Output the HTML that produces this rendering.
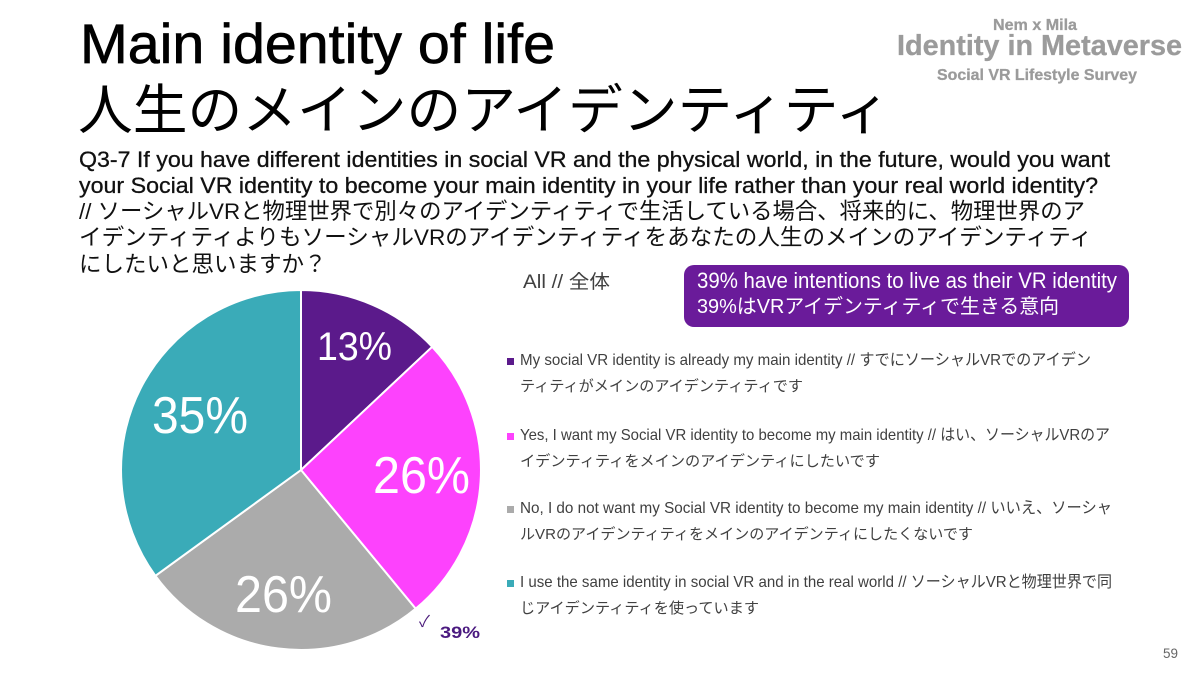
<!DOCTYPE html>
<html>
<head>
<meta charset="utf-8">
<style>
  html, body { margin: 0; padding: 0; background: #ffffff; }
  body { width: 1200px; height: 675px; overflow: hidden; }
  svg { display: block; }
  text { font-family: "Liberation Sans", "Noto Sans CJK JP", sans-serif; }
</style>
</head>
<body>
<svg width="1200" height="675" viewBox="0 0 1200 675" xmlns="http://www.w3.org/2000/svg">
  <rect x="0" y="0" width="1200" height="675" fill="#ffffff"/>

  <!-- Title -->
  <text x="80" y="63" font-size="56" fill="#000" stroke="#000" stroke-width="0.7" textLength="475" lengthAdjust="spacingAndGlyphs">Main identity of life</text>
  <text x="78" y="129" font-size="54" fill="#000" textLength="812" lengthAdjust="spacingAndGlyphs">人生のメインのアイデンティティ</text>

  <!-- Logo -->
  <g fill="#9b9b9b" font-weight="bold" stroke="#9b9b9b" stroke-width="0.3">
    <text x="993" y="30" font-size="16" textLength="84" lengthAdjust="spacingAndGlyphs">Nem x Mila</text>
    <text x="897" y="55" font-size="29" textLength="285" lengthAdjust="spacingAndGlyphs">Identity in Metaverse</text>
    <text x="937" y="80" font-size="16" textLength="200" lengthAdjust="spacingAndGlyphs">Social VR Lifestyle Survey</text>
  </g>

  <!-- Question -->
  <g fill="#111">
    <text x="79" y="167" font-size="22" stroke="#111" stroke-width="0.3" textLength="1031" lengthAdjust="spacingAndGlyphs">Q3-7 If you have different identities in social VR and the physical world, in the future, would you want</text>
    <text x="79" y="193" font-size="22" stroke="#111" stroke-width="0.3" textLength="1019" lengthAdjust="spacingAndGlyphs">your Social VR identity to become your main identity in your life rather than your real world identity?</text>
    <text x="79" y="219" font-size="22.5" textLength="1006" lengthAdjust="spacingAndGlyphs">// ソーシャルVRと物理世界で別々のアイデンティティで生活している場合、将来的に、物理世界のア</text>
    <text x="79" y="245" font-size="22.5" textLength="1013" lengthAdjust="spacingAndGlyphs">イデンティティよりもソーシャルVRのアイデンティティをあなたの人生のメインのアイデンティティ</text>
    <text x="79" y="272" font-size="22.5">にしたいと思いますか？</text>
  </g>

  <!-- All label -->
  <text x="523" y="288" font-size="19" fill="#404040" textLength="87" lengthAdjust="spacingAndGlyphs">All // 全体</text>

  <!-- Callout box -->
  <rect x="684" y="265" width="445" height="62" rx="10" ry="10" fill="#6a1b9a"/>
  <text x="697" y="288" font-size="22" fill="#ffffff" textLength="420" lengthAdjust="spacingAndGlyphs">39% have intentions to live as their VR identity</text>
  <text x="697" y="313" font-size="20" fill="#ffffff" textLength="362" lengthAdjust="spacingAndGlyphs">39%はVRアイデンティティで生きる意向</text>

  <!-- Pie -->
  <g stroke="#ffffff" stroke-width="2" stroke-linejoin="round">
    <path d="M301,470 L301,290 A180,180 0 0 1 432.2,346.8 Z" fill="#5b1a8b"/>
    <path d="M301,470 L432.2,346.8 A180,180 0 0 1 415.7,608.7 Z" fill="#fd42fd"/>
    <path d="M301,470 L415.7,608.7 A180,180 0 0 1 155.4,575.8 Z" fill="#ababab"/>
    <path d="M301,470 L155.4,575.8 A180,180 0 0 1 301,290 Z" fill="#3aabb8"/>
  </g>
  <g fill="#ffffff">
    <text x="317" y="360" font-size="40" textLength="75" lengthAdjust="spacingAndGlyphs">13%</text>
    <text x="373" y="493" font-size="52" textLength="97" lengthAdjust="spacingAndGlyphs">26%</text>
    <text x="235" y="612" font-size="52" textLength="97" lengthAdjust="spacingAndGlyphs">26%</text>
    <text x="152" y="433" font-size="52" textLength="96" lengthAdjust="spacingAndGlyphs">35%</text>
  </g>

  <!-- Check + 39% -->
  <text x="419" y="627" font-size="16" fill="#4a1a7a">✓</text>
  <text x="440" y="638" font-size="17" font-weight="bold" fill="#4b1a80" textLength="40" lengthAdjust="spacingAndGlyphs">39%</text>

  <!-- Legend -->
  <rect x="507" y="358" width="7" height="7" fill="#5b1a8b"/>
  <rect x="507" y="433" width="7" height="7" fill="#fd42fd"/>
  <rect x="507" y="506" width="7" height="7" fill="#ababab"/>
  <rect x="507" y="580" width="7" height="7" fill="#3aabb8"/>
  <g fill="#404040" font-size="15">
    <text x="520" y="365" font-size="16" textLength="571" lengthAdjust="spacingAndGlyphs">My social VR identity is already my main identity // すでにソーシャルVRでのアイデン</text>
    <text x="520" y="391" textLength="283" lengthAdjust="spacingAndGlyphs">ティティがメインのアイデンティティです</text>

    <text x="520" y="440" font-size="16" textLength="590" lengthAdjust="spacingAndGlyphs">Yes, I want my Social VR identity to become my main identity // はい、ソーシャルVRのア</text>
    <text x="520" y="466" textLength="360" lengthAdjust="spacingAndGlyphs">イデンティティをメインのアイデンティにしたいです</text>

    <text x="520" y="513" font-size="16" textLength="592" lengthAdjust="spacingAndGlyphs">No, I do not want my Social VR identity to become my main identity  // いいえ、ソーシャ</text>
    <text x="520" y="539" textLength="453" lengthAdjust="spacingAndGlyphs">ルVRのアイデンティティをメインのアイデンティにしたくないです</text>

    <text x="520" y="587" font-size="16" textLength="592" lengthAdjust="spacingAndGlyphs">I use the same identity in social VR and in the real world // ソーシャルVRと物理世界で同</text>
    <text x="520" y="613" textLength="239" lengthAdjust="spacingAndGlyphs">じアイデンティティを使っています</text>
  </g>

  <!-- Page number -->
  <text x="1163" y="658" font-size="14" fill="#666" textLength="15" lengthAdjust="spacingAndGlyphs">59</text>
</svg>
</body>
</html>
